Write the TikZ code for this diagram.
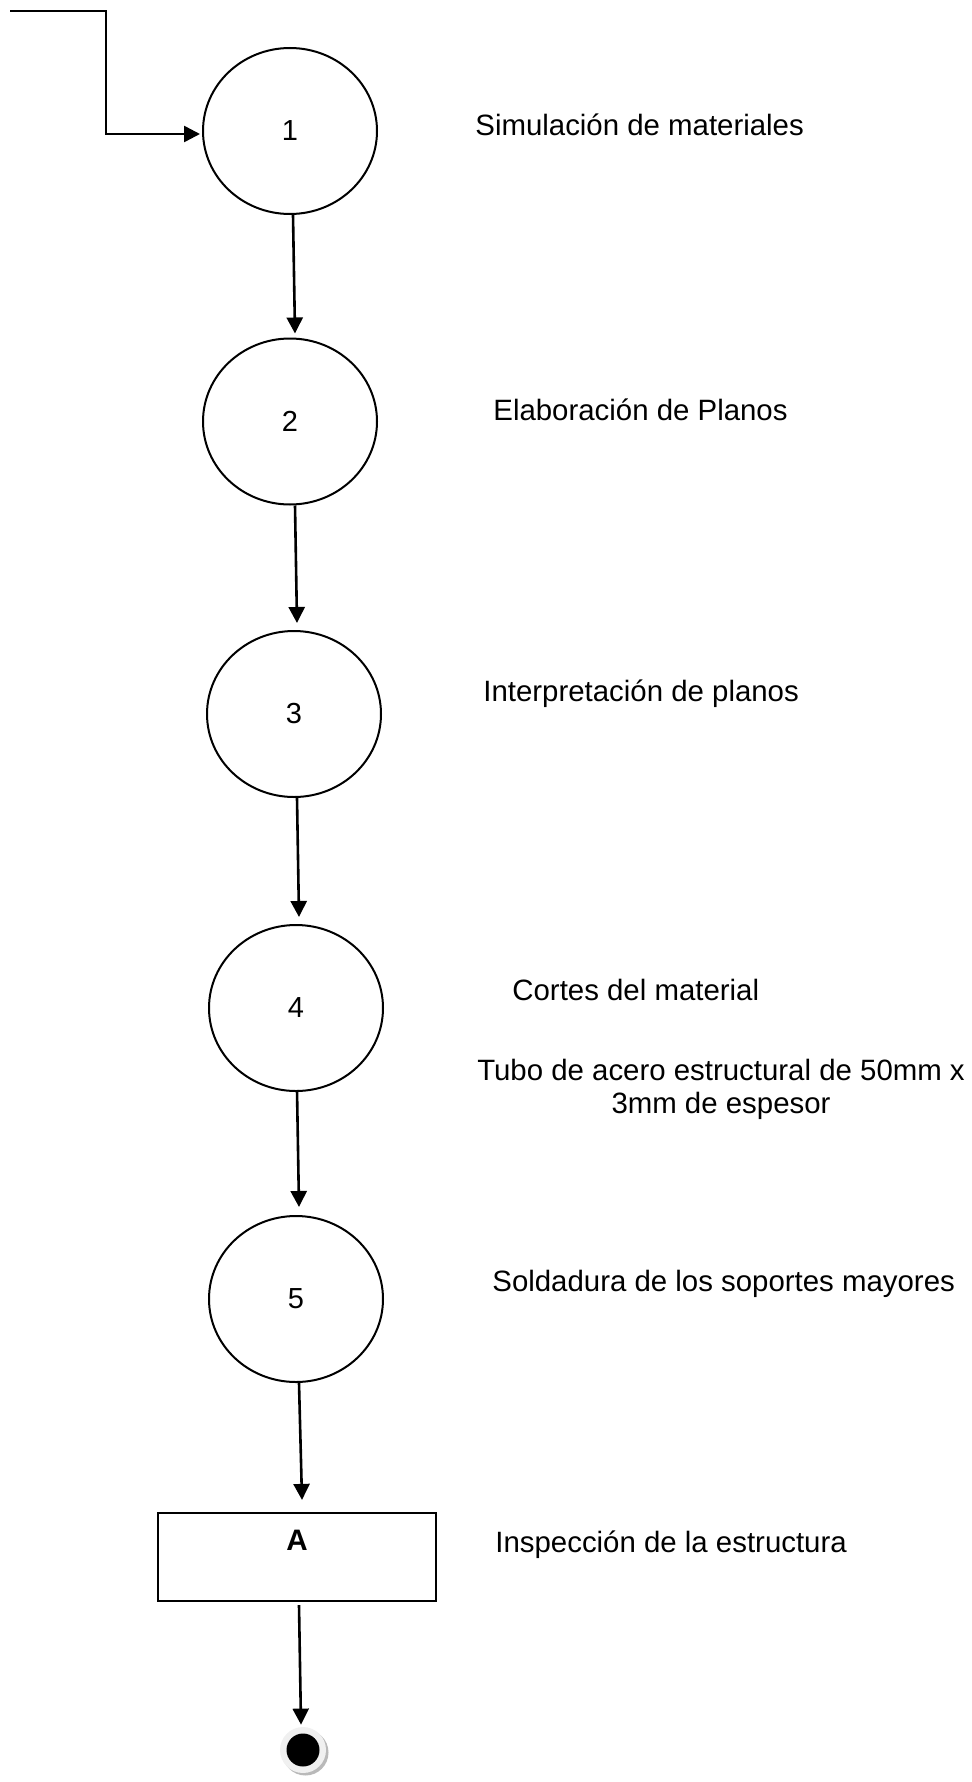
\documentclass[tikz,border=0pt]{standalone}
\usepackage{fontspec}
\setmainfont{Liberation Sans}
\usetikzlibrary{arrows.meta,shapes.geometric}
\tikzset{
  proc/.style={ellipse, draw, line width=1pt, minimum width=87pt, minimum height=83pt, inner sep=0pt, font=\fontsize{14.5}{16}\selectfont},
  insp/.style={rectangle, draw, line width=1.1pt, minimum width=139pt, minimum height=44pt, inner sep=0pt},
  lbl/.style={anchor=base west, inner sep=0pt, font=\fontsize{14.7}{16}\selectfont},
  arr/.style={line width=1.3pt, -{Triangle[length=8pt,width=8pt]}}
}
\begin{document}
\begin{tikzpicture}[x=0.5pt,y=-0.5pt]
\useasboundingbox (0,0) rectangle (972,1782);
% process circles
\node[proc] (c1) at (290,131) {1};
\node[proc] (c2) at (290,421.5) {2};
\node[proc] (c3) at (294,714) {3};
\node[proc] (c4) at (296,1008) {4};
\node[proc] (c5) at (296,1299) {5};
% inspection box
\node[insp] (A) at (297,1557) {};
\node[inner sep=0pt, font=\fontsize{14.8}{16}\selectfont\bfseries] (Alab) at (297,1540) {A};
% end symbol
\fill[gray!55] (305.5,1752.5) circle (23);
\node[circle, fill=gray!12, minimum size=23pt, inner sep=0pt] (ring) at (303,1750) {};
\node[circle, fill=black, minimum size=16.5pt, inner sep=0pt] (fin) at (303,1750) {};
% entry connector
\coordinate (start) at (10,11);
\coordinate (bend) at (106,11);
\draw[arr] (start) -- (bend) |- ([xshift=-1pt,yshift=-1.5pt]c1.west);
% flow connectors
\draw[arr] ([xshift=1.5pt]c1.south) -- ([xshift=2.5pt,yshift=2pt]c2.north);
\draw[arr] ([xshift=2.5pt]c2.south) -- ([xshift=1.5pt,yshift=3.5pt]c3.north);
\draw[arr] ([xshift=1.5pt]c3.south) -- ([xshift=1.5pt,yshift=3.5pt]c4.north);
\draw[arr] ([xshift=0.5pt,yshift=1pt]c4.south) -- ([xshift=1.5pt,yshift=4pt]c5.north);
\draw[arr] ([xshift=1.5pt]c5.south) -- ([xshift=2.5pt,yshift=6pt]A.north);
\draw[arr] ([xshift=1pt,yshift=-1.5pt]A.south) -- ([xshift=-1pt,yshift=1pt]ring.north);
% labels
\node[lbl] (l1) at (475,135.5) {Simulación de materiales};
\node[lbl] (l2) at (493,420) {Elaboración de Planos};
\node[lbl] (l3) at (483,701) {Interpretación de planos};
\node[lbl] (l4) at (512,1000) {Cortes del material};
\node[anchor=base, inner sep=0pt, align=center, font=\fontsize{14.7}{16.5}\selectfont] (l4b) at (721,1113) {Tubo de acero estructural de 50mm x\\3mm de espesor};
\node[lbl] (l5) at (492,1291) {Soldadura de los soportes mayores};
\node[lbl] (l6) at (495,1552) {Inspección de la estructura};
\end{tikzpicture}
\end{document}
